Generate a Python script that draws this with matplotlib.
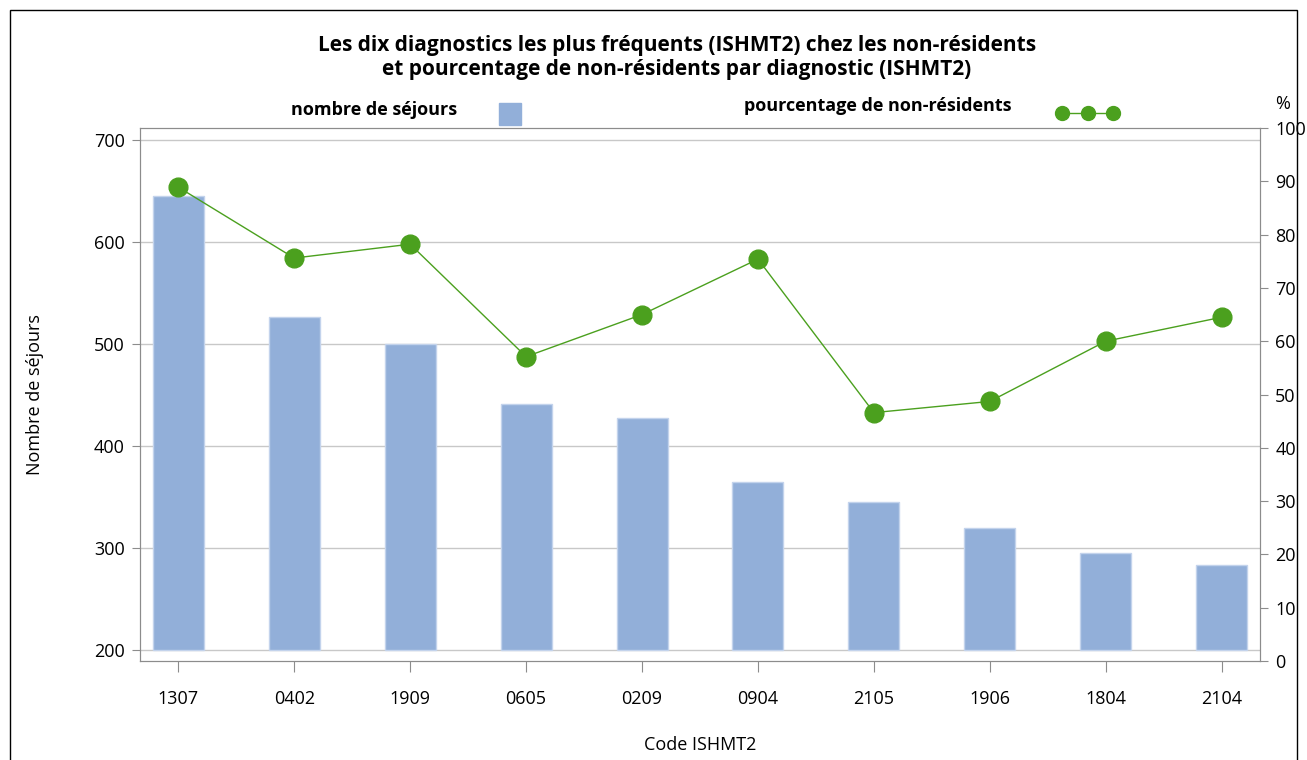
import matplotlib
matplotlib.use('Agg')
import matplotlib.pyplot as plt
from matplotlib.patches import Rectangle
from matplotlib.lines import Line2D

plt.rcParams['font.family'] = ['Open Sans', 'DejaVu Sans']

codes = ['1307', '0402', '1909', '0605', '0209', '0904', '2105', '1906', '1804', '2104']
sejours = [645, 526, 500, 441, 427, 365, 345, 320, 295, 283]
pct_nonres = [88.9, 75.6, 78.2, 57.1, 65.0, 75.4, 46.6, 48.7, 60.0, 64.5]

bar_color = '#92AFD9'
green = '#4BA01E'
grey = '#8C8C8C'
base = 200

fig = plt.figure(figsize=(13.07, 7.6), dpi=100)
ax = fig.add_axes([140 / 1307, 1 - 661 / 760, 1120 / 1307, 533 / 760])
ax2 = ax.twinx()

x = list(range(len(codes)))
ax.bar(x, [v - base for v in sejours], width=0.44, bottom=base, color=bar_color,
       edgecolor='#C3D3EC', linewidth=1, zorder=2)
ax.set_ylim(189.2, 711.8)
ax.set_xlim(-0.33, 9.33)
ax.set_yticks([200, 300, 400, 500, 600, 700])
ax.grid(axis='y', color='#C8C8C8', linewidth=1, zorder=0)
ax.set_axisbelow(True)
ax.set_xticks(x)
ax.set_xticklabels(codes)
ax.tick_params(axis='x', length=8, color=grey, pad=13, labelsize=13)
ax.tick_params(axis='y', length=6, color=grey, pad=5, labelsize=13)
ax.set_ylabel('Nombre de séjours', fontsize=13, labelpad=36)
ax.set_xlabel('Code ISHMT2', fontsize=13, labelpad=20)

ax2.plot(x, pct_nonres, color=green, linewidth=1, marker='o', markersize=13.5, zorder=3)
ax2.set_ylim(0, 100)
ax2.set_yticks(range(0, 101, 10))
ax2.tick_params(axis='y', length=6, color=grey, pad=5, labelsize=13)

for a in (ax, ax2):
    for s in a.spines.values():
        s.set_color(grey)

fig.text(1283 / 1307, 1 - 104 / 760, '%', fontsize=13, ha='center', va='center')

fig.text(0.518, 1 - 46 / 760, 'Les dix diagnostics les plus fréquents (ISHMT2) chez les non-résidents',
         fontsize=15, fontweight='bold', ha='center', va='center')
fig.text(0.518, 1 - 69 / 760, 'et pourcentage de non-résidents par diagnostic (ISHMT2)',
         fontsize=15, fontweight='bold', ha='center', va='center')

# legend
fig.text(374 / 1307, 1 - 110 / 760, 'nombre de séjours', fontsize=13, fontweight='bold',
         ha='center', va='center')
fig.patches.append(Rectangle((499 / 1307, 1 - 125 / 760), 22 / 1307, 22 / 760,
                             transform=fig.transFigure, color=bar_color))
fig.text(878 / 1307, 1 - 106 / 760, 'pourcentage de non-résidents', fontsize=13, fontweight='bold',
         ha='center', va='center')
fig.lines.append(Line2D([1062 / 1307, 1088 / 1307, 1113 / 1307], [1 - 113 / 760] * 3,
                        transform=fig.transFigure, color=green, linewidth=1,
                        marker='o', markersize=10))

# frame around figure
fig.patches.append(Rectangle((10 / 1307, -0.05), 1287 / 1307, 1.05 - 10 / 760,
                             transform=fig.transFigure, fill=False, edgecolor='black', linewidth=1))

fig.savefig('out.png', dpi=100)
